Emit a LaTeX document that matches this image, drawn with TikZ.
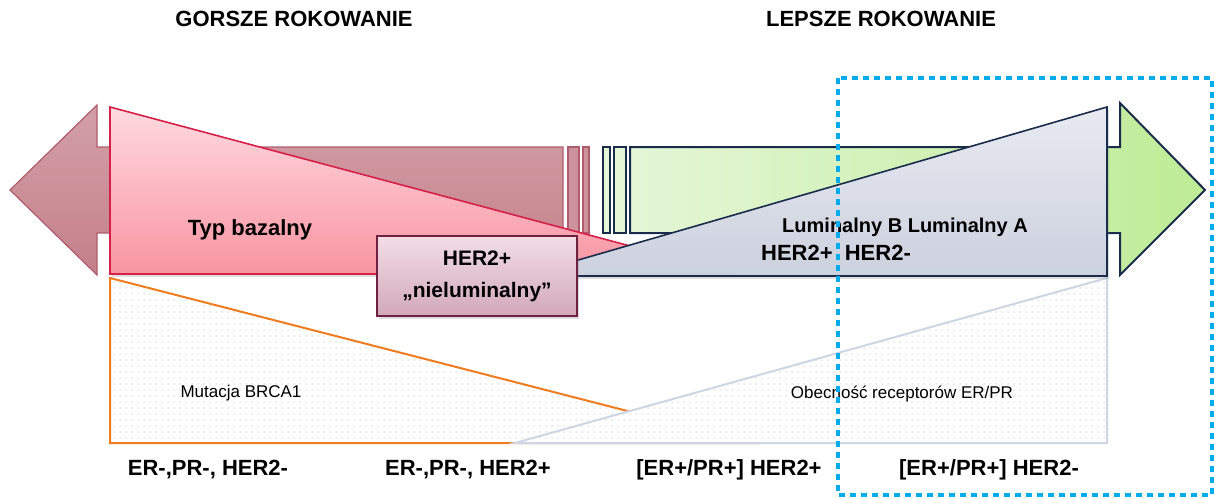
\documentclass[tikz,border=0pt]{standalone}
\usepackage{fontspec}
\setmainfont{Liberation Sans}
\usetikzlibrary{patterns,shadows}

\definecolor{arrowrose}{RGB}{196,128,138}
\definecolor{arrowroseline}{RGB}{176,92,108}
\definecolor{crimson}{RGB}{214,32,72}
\definecolor{pinktop}{RGB}{255,218,224}
\definecolor{pinkbottom}{RGB}{248,148,162}
\definecolor{greytop}{RGB}{232,234,241}
\definecolor{greybottom}{RGB}{204,209,222}
\definecolor{navyline}{RGB}{26,44,76}
\definecolor{lightgreen}{RGB}{228,246,214}
\definecolor{midgreen}{RGB}{190,236,150}
\definecolor{boxline}{RGB}{112,32,64}
\definecolor{boxtop}{RGB}{242,222,230}
\definecolor{boxbottom}{RGB}{210,168,186}
\definecolor{cyanframe}{RGB}{0,172,236}
\definecolor{orangeline}{RGB}{240,124,32}
\definecolor{paleline}{RGB}{205,214,228}

\begin{document}
\begin{tikzpicture}[x=0.5pt,y=-0.5pt,
  big/.style={font=\bfseries\fontsize{11}{13}\selectfont,inner sep=0pt},
  small/.style={font=\fontsize{8.5}{10}\selectfont,inner sep=0pt},
  soft/.style={drop shadow={opacity=0.25,shadow xshift=1pt,shadow yshift=-1.5pt}}]
\useasboundingbox (0,0) rectangle (1215,498);
% left arrow with its bars
\draw[arrowroseline,line width=0.6pt,top color=arrowrose!75,bottom color=arrowrose]
  (10,190) -- (97,105) -- (97,147) -- (563,147) -- (563,233) -- (97,233) -- (97,275) -- cycle;
\draw[arrowroseline,line width=0.6pt,fill=arrowrose!85] (568,147) rectangle (579,233);
\draw[arrowroseline,line width=0.6pt,fill=arrowrose!85] (583,147) rectangle (589,233);
% right arrow with its bars
\draw[navyline,line width=0.9pt,fill=lightgreen] (603,147) rectangle (610,233);
\draw[navyline,line width=0.9pt,fill=lightgreen] (614,147) rectangle (626,233);
\draw[navyline,line width=1pt,left color=lightgreen,right color=midgreen]
  (630,147) -- (1120,147) -- (1120,103) -- (1205,190) -- (1120,275) -- (1120,233) -- (630,233) -- cycle;
% lower triangles
\draw[orangeline,line width=1pt,preaction={fill=white},pattern=dots,pattern color=black!10]
  (110,278) -- (752,443) -- (110,443) -- cycle;
\draw[paleline,line width=1pt,preaction={fill=white},pattern=dots,pattern color=black!10]
  (1107,278) -- (1107,443) -- (515,443) -- cycle;
% upper triangles
\draw[crimson,line width=0.8pt,top color=pinktop,bottom color=pinkbottom,soft]
  (110,107) -- (735,274) -- (110,274) -- cycle;
\draw[navyline,line width=0.8pt,top color=greytop,bottom color=greybottom,soft]
  (1107,107) -- (1107,276) -- (523,276) -- cycle;
% texts
\node[big] (worse) at (294,19) {GORSZE ROKOWANIE};
\node[big] (better) at (881,19) {LEPSZE ROKOWANIE};
\node[big] (basal) at (250,230) {Typ bazalny};
\node[big,draw=boxline,line width=1pt,top color=boxtop,bottom color=boxbottom,soft,
  minimum width=100pt,minimum height=40pt,align=center,font=\bfseries\fontsize{10.5}{16}\selectfont]
  (her2box) at (477,276) {HER2+\\„nieluminalny”};
\node[big,font=\bfseries\fontsize{10}{12}\selectfont] (lumina) at (905,227) {Luminalny B Luminalny A};
\node[big] (lumher) at (836,253) {HER2+\ \ HER2-};
\node[small] (brca) at (241,393) {Mutacja BRCA1};
\node[small] (erpr) at (902,394) {Obecność receptorów ER/PR};
\node[big] (c1) at (208,470) {ER-,PR-, HER2-};
\node[big] (c2) at (468,470) {ER-,PR-, HER2+};
\node[big] (c3) at (729,470) {[ER+/PR+] HER2+};
\node[big] (c4) at (989,470) {[ER+/PR+] HER2-};
% highlight frame
\draw[cyanframe,line width=2pt,dash pattern=on 3pt off 2.5pt] (838,78) rectangle (1212,495);
\end{tikzpicture}
\end{document}
